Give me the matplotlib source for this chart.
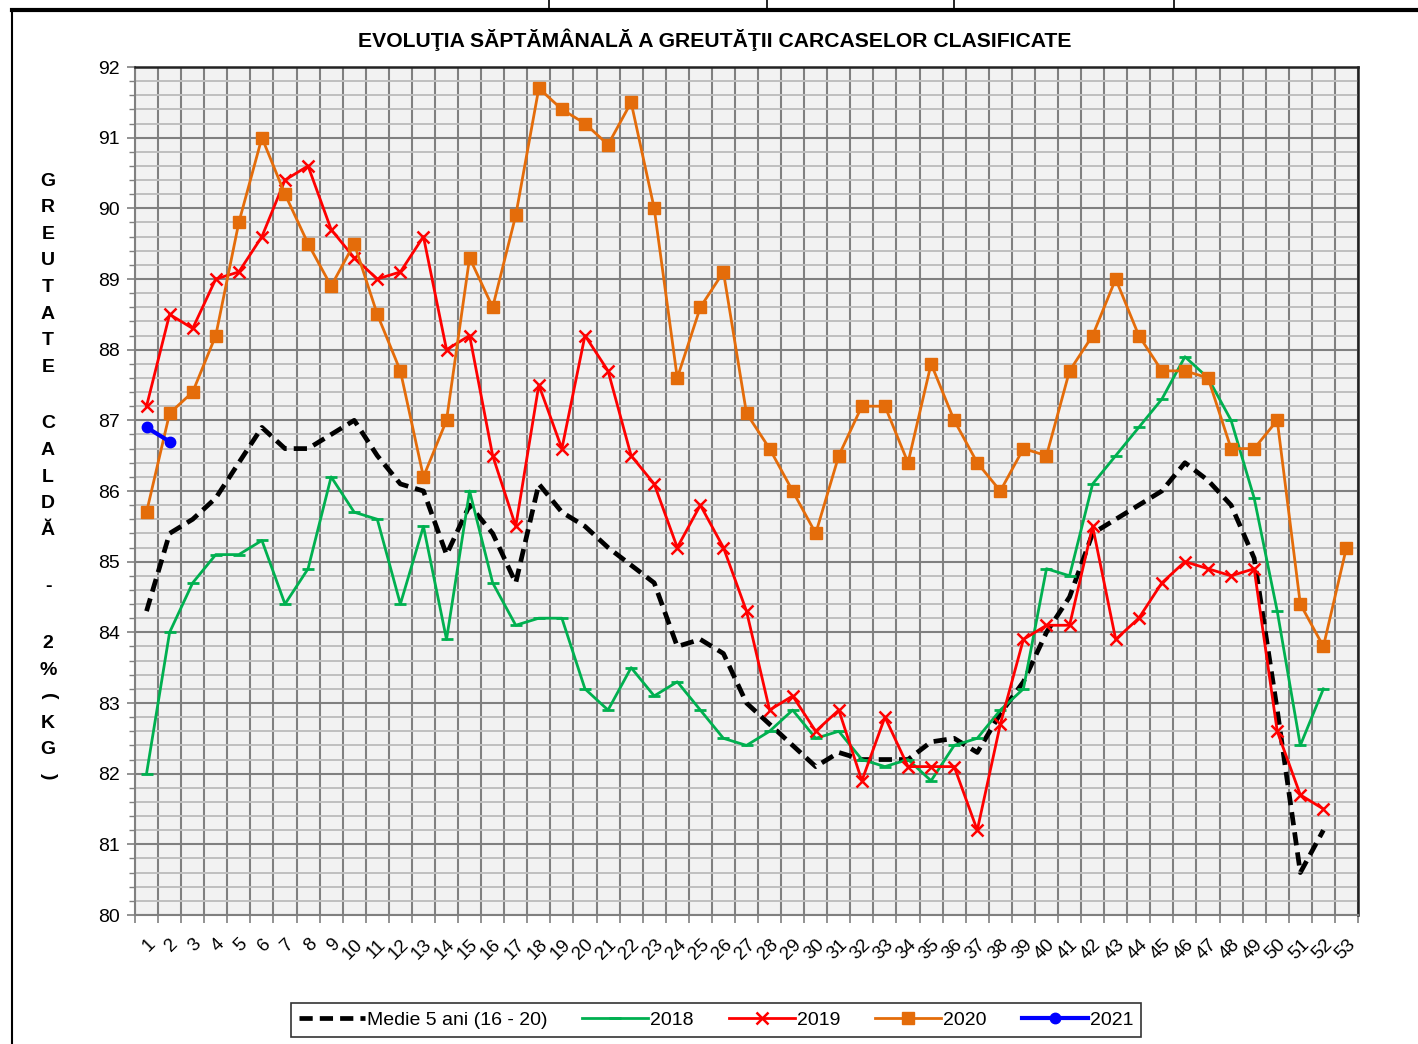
import matplotlib
matplotlib.use("Agg")
import matplotlib.pyplot as plt
from matplotlib.lines import Line2D
from matplotlib.ticker import MultipleLocator, FixedLocator
import numpy as np

weeks = list(range(1, 54))

medie = [84.3, 85.4, 85.6, 85.9, 86.4, 86.9, 86.6, 86.6, 86.8, 87.0,
         86.5, 86.1, 86.0, 85.1, 85.8, 85.4, 84.7, 86.1, 85.7, 85.5,
         85.2, 84.95, 84.7, 83.8, 83.9, 83.7, 83.0, 82.7, 82.4, 82.1,
         82.3, 82.2, 82.2, 82.2, 82.45, 82.5, 82.3, 82.85, 83.3, 84.0,
         84.5, 85.4, 85.6, 85.8, 86.0, 86.4, 86.15, 85.8, 85.05, 82.9,
         80.6, 81.2]

y2018 = [82.0, 84.0, 84.7, 85.1, 85.1, 85.3, 84.4, 84.9, 86.2, 85.7,
         85.6, 84.4, 85.5, 83.9, 86.0, 84.7, 84.1, 84.2, 84.2, 83.2,
         82.9, 83.5, 83.1, 83.3, 82.9, 82.5, 82.4, 82.6, 82.9, 82.5,
         82.6, 82.2, 82.1, 82.2, 81.9, 82.4, 82.5, 82.9, 83.2, 84.9,
         84.8, 86.1, 86.5, 86.9, 87.3, 87.9, 87.6, 87.0, 85.9, 84.3,
         82.4, 83.2]

y2019 = [87.2, 88.5, 88.3, 89.0, 89.1, 89.6, 90.4, 90.6, 89.7, 89.3,
         89.0, 89.1, 89.6, 88.0, 88.2, 86.5, 85.5, 87.5, 86.6, 88.2,
         87.7, 86.5, 86.1, 85.2, 85.8, 85.2, 84.3, 82.9, 83.1, 82.6,
         82.9, 81.9, 82.8, 82.1, 82.1, 82.1, 81.2, 82.7, 83.9, 84.1,
         84.1, 85.5, 83.9, 84.2, 84.7, 85.0, 84.9, 84.8, 84.9, 82.6,
         81.7, 81.5]

y2020 = [85.7, 87.1, 87.4, 88.2, 89.8, 91.0, 90.2, 89.5, 88.9, 89.5,
         88.5, 87.7, 86.2, 87.0, 89.3, 88.6, 89.9, 91.7, 91.4, 91.2,
         90.9, 91.5, 90.0, 87.6, 88.6, 89.1, 87.1, 86.6, 86.0, 85.4,
         86.5, 87.2, 87.2, 86.4, 87.8, 87.0, 86.4, 86.0, 86.6, 86.5,
         87.7, 88.2, 89.0, 88.2, 87.7, 87.7, 87.6, 86.6, 86.6, 87.0,
         84.4, 83.8, 85.2]

y2021 = [86.9, 86.7]

title = "EVOLUŢIA SĂPTĂMÂNALĂ A GREUTĂŢII CARCASELOR CLASIFICATE"
ylabel = "GREUTATE  CALDĂ  -  2%(KG)"

plt.rcParams['font.family'] = ['Liberation Sans', 'DejaVu Sans']

W, H = 1418, 1044
fig = plt.figure(figsize=(W / 100, H / 100), dpi=100)
fig.patch.set_facecolor('white')

ax = fig.add_axes([135 / W, 1 - 915 / H, (1358 - 135) / W, (915 - 67) / H])
ax.set_facecolor('#F2F2F2')

ax.plot(weeks[:len(medie)], medie, color='black', lw=3.4, ls=(0, (2.8, 1.5)),
        label='Medie 5 ani (16 - 20)', zorder=3)
ax.plot(weeks[:len(y2018)], y2018, color='#00B050', lw=2, marker='_', ms=9, mew=2,
        label='2018', zorder=4)
ax.plot(weeks[:len(y2019)], y2019, color='#FF0000', lw=2, marker='x', ms=8, mew=1.8,
        label='2019', zorder=5)
ax.plot(weeks[:len(y2020)], y2020, color='#E46C0A', lw=2, marker='s', ms=8,
        label='2020', zorder=6)
ax.plot(weeks[:len(y2021)], y2021, color='#0000FF', lw=3, marker='o', ms=7.5,
        label='2021', zorder=7)

ax.set_xlim(0.5, 53.5)
ax.set_ylim(80, 92)

# category axis: labels centred, ticks and grid on the boundaries
ax.xaxis.set_major_locator(FixedLocator(weeks))
ax.set_xticklabels([str(w) for w in weeks], rotation=45, ha='right',
                   rotation_mode='anchor', fontsize=13.5)
ax.xaxis.set_minor_locator(FixedLocator(np.arange(0.5, 54, 1)))
ax.tick_params(axis='x', which='major', length=0, pad=15)
ax.tick_params(axis='x', which='minor', length=6, color='#808080', width=1.2)

ax.yaxis.set_major_locator(MultipleLocator(1))
ax.yaxis.set_minor_locator(MultipleLocator(0.2))
ax.tick_params(axis='y', which='major', length=6, color='#808080', width=1.2,
               labelsize=14, pad=5)
ax.tick_params(axis='y', which='minor', length=4, color='#808080', width=1.0)

ax.grid(axis='y', which='minor', color='#BFBFBF', lw=1.4, zorder=0)
ax.grid(axis='y', which='major', color='#808080', lw=1.5, zorder=1)
ax.grid(axis='x', which='minor', color='#808080', lw=1.5, zorder=1)
ax.grid(axis='x', which='major', visible=False)
ax.set_axisbelow(True)

for s in ['left', 'bottom']:
    ax.spines[s].set_color('#808080')
    ax.spines[s].set_linewidth(1.5)
for s in ['top', 'right']:
    ax.spines[s].set_color('#222222')
    ax.spines[s].set_linewidth(1.8)

fig.text(715 / W, 1 - 40 / H, title, ha='center', va='center',
         fontsize=15.2, fontweight='bold')

# stacked vertical axis title
y = 181
for ch in ylabel:
    if ch == ' ':
        y += 15
        continue
    rot = -90 if ch in '()' else 0
    fig.text(48 / W, 1 - y / H, ch, ha='center', va='center', fontsize=14,
             fontweight='bold', rotation=rot)
    y += 26.6

# spreadsheet frame around the chart
fig.add_artist(Line2D([12 / W, 1], [1 - 10 / H, 1 - 10 / H], color='black', lw=3,
                      transform=fig.transFigure))
fig.add_artist(Line2D([12 / W, 12 / W], [0, 1 - 10 / H], color='black', lw=1.5,
                      transform=fig.transFigure))
for xc in [549, 767, 954, 1174]:
    fig.add_artist(Line2D([xc / W, xc / W], [1 - 10 / H, 1], color='black', lw=1.2,
                          transform=fig.transFigure))

leg = fig.legend(loc='center', bbox_to_anchor=(716 / W, 1 - 1020 / H), ncol=5,
                 fontsize=14, frameon=True, fancybox=False, edgecolor='black',
                 handlelength=3.4, columnspacing=1.8, handletextpad=0.1,
                 borderpad=0.4)
leg.get_frame().set_linewidth(1.2)

fig.savefig('out.png', dpi=100, facecolor='white')
